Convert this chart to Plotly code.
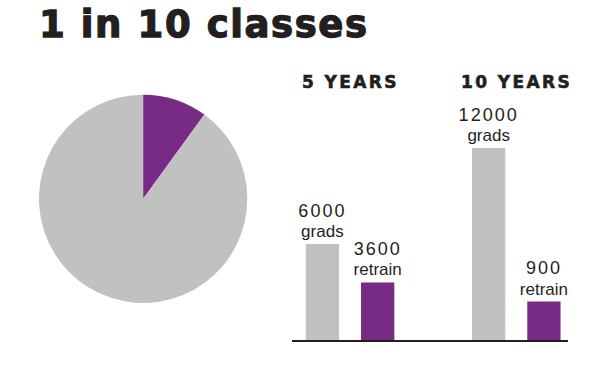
import plotly.graph_objects as go

# ---- data ----
title_text = "1 in 10 classes"
pie_labels = ["retrain", "other"]
pie_values = [10, 90]
periods = ["5 YEARS", "10 YEARS"]
grads = [6000, 12000]            # label values for grey bars
retrain = [3600, 900]            # label values for purple bars
retrain_drawn = [3600, 2400]     # purple bar lengths as drawn in the picture
grads_word = "grads"
retrain_word = "retrain"

# ---- style ----
GREY = "#c1c1c1"
PURPLE = "#772b84"
INK = "#231f20"
W, H = 600, 368


def px(x):
    return x / W


def py(y):
    return 1 - y / H


def bar_label(n, word):
    return (f"<span style='font-size:18px;letter-spacing:2px'>{n}</span>"
            f"<br><span style='font-size:17px'>{word}</span>")


label_font = dict(family="Liberation Sans, Arial, sans-serif", size=15.5, color=INK)

fig = go.Figure()

fig.add_trace(go.Pie(
    labels=pie_labels, values=pie_values, sort=False, direction="clockwise",
    rotation=0, marker=dict(colors=[PURPLE, GREY], line=dict(width=0)),
    textinfo="none", hoverinfo="skip", showlegend=False,
    domain=dict(x=[px(39), px(247.3)], y=[py(303.3), py(94.3)]),
))

fig.add_trace(go.Bar(
    x=periods, y=grads, marker=dict(color=GREY, line=dict(width=0)),
    text=[bar_label(v, grads_word) for v in grads],
    textposition="outside", constraintext="none", cliponaxis=False,
    textfont=label_font, outsidetextfont=label_font, hoverinfo="skip",
))
fig.add_trace(go.Bar(
    x=periods, y=retrain_drawn, marker=dict(color=PURPLE, line=dict(width=0)),
    text=[bar_label(v, retrain_word) for v in retrain],
    textposition="outside", constraintext="none", cliponaxis=False,
    textfont=label_font, outsidetextfont=label_font, hoverinfo="skip",
))

annotations = [
    dict(text=(f"<span style='letter-spacing:1.6px;stroke:{INK};stroke-width:1.3px'>"
               f"{title_text}</span>"),
         xref="paper", yref="paper", x=px(37), y=py(0.5),
         xanchor="left", yanchor="top", showarrow=False,
         font=dict(family="DejaVu Sans", size=37, color=INK, weight="bold")),
]
for p in periods:
    annotations.append(dict(
        text=(f"<span style='letter-spacing:2.4px;stroke:{INK};stroke-width:0.6px'>"
              f"{p}</span>"),
        xref="x", yref="paper", x=p, y=py(70.3), xanchor="center", yanchor="top",
        showarrow=False,
        font=dict(family="DejaVu Sans", size=17, color=INK, weight="bold")))

fig.update_layout(
    width=W, height=H, margin=dict(l=0, r=0, t=0, b=0),
    paper_bgcolor="white", plot_bgcolor="white", showlegend=False,
    barmode="group", bargap=0.335, bargroupgap=0.398,
    xaxis=dict(domain=[px(292), px(568)], range=[-0.349, 1.311],
               showline=True, linecolor=INK, linewidth=2, showticklabels=False,
               ticks="", showgrid=False, zeroline=False, fixedrange=True),
    yaxis=dict(domain=[py(340), py(132)], range=[0, 13000], visible=False,
               showgrid=False, zeroline=False, fixedrange=True),
    annotations=annotations,
)

fig.write_html("out.html", config={"displayModeBar": False},
               post_script="document.body.style.margin='0';")
